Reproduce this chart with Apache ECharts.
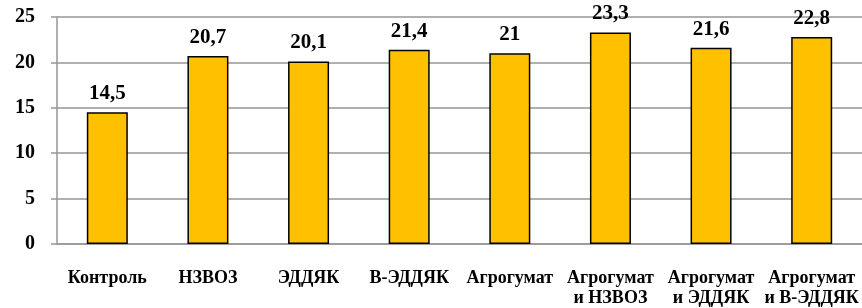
<!DOCTYPE html>
<html>
<head>
<meta charset="utf-8">
<script src="https://cdn.jsdelivr.net/npm/echarts@6/dist/echarts.min.js"></script>
<style>
  html, body { margin: 0; padding: 0; background: #fff; }
  #main { width: 862px; height: 308px; }
</style>
</head>
<body>
<div id="main"></div>
<script>
// данные
var categories = ["Контроль", "НЗВОЗ", "ЭДДЯК", "В-ЭДДЯК", "Агрогумат",
  "Агрогумат\nи НЗВОЗ", "Агрогумат\nи ЭДДЯК", "Агрогумат\nи В-ЭДДЯК"];
var values = [14.5, 20.7, 20.1, 21.4, 21, 23.3, 21.6, 22.8];
var yTicks = [0, 5, 10, 15, 20, 25];

var chart = echarts.init(document.getElementById("main"));
chart.setOption({
  animation: false,
  grid: { left: 57, right: -11, top: 17, bottom: 64 },
  xAxis: {
    type: "category",
    data: categories,
    axisLine: { lineStyle: { color: "#969696", width: 1.5 } },
    axisTick: { length: 6, lineStyle: { color: "#969696", width: 1.5 } },
    axisLabel: {
      interval: 0,
      margin: 24,
      color: "#000",
      fontFamily: "Liberation Serif",
      fontWeight: "bold",
      fontSize: 18,
      lineHeight: 20
    }
  },
  yAxis: {
    type: "value",
    min: yTicks[0],
    max: yTicks[yTicks.length - 1],
    interval: 5,
    axisLine: { show: true, lineStyle: { color: "#969696", width: 1.5 } },
    axisTick: { show: true, length: 6, lineStyle: { color: "#969696", width: 1.5 } },
    splitLine: { lineStyle: { color: "#969696", width: 1.5 } },
    axisLabel: {
      margin: 22,
      color: "#000",
      fontFamily: "Liberation Serif",
      fontWeight: "bold",
      fontSize: 20
    }
  },
  series: [
    {
      type: "bar",
      data: values,
      barWidth: 41,
      itemStyle: { color: "#FFC000", borderColor: "#000", borderWidth: 1.5 },
      label: {
        show: true,
        position: "top",
        distance: 8,
        color: "#000",
        fontFamily: "Liberation Serif",
        fontWeight: "bold",
        fontSize: 21,
        formatter: function (p) { return String(p.value).replace(".", ","); }
      }
    }
  ]
});
</script>
</body>
</html>
